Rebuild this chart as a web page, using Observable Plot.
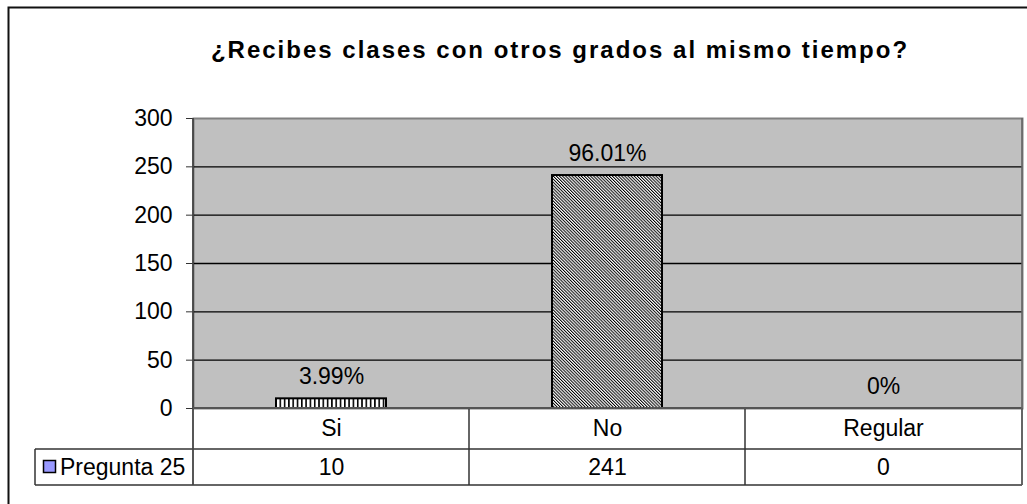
<!DOCTYPE html>
<html><head><meta charset="utf-8">
<script src="https://cdn.jsdelivr.net/npm/d3@7"></script>
<script src="https://cdn.jsdelivr.net/npm/@observablehq/plot@0.6"></script>
<style>body{margin:0;background:#fff}</style>
</head><body><div id="chart"></div>
<script>
const title = "¿Recibes clases con otros grados al mismo tiempo?";
const categories = ["Si", "No", "Regular"];
const values = [10, 241, 0];
const percentLabels = ["3.99%", "96.01%", "0%"];
const seriesName = "Pregunta 25";
const yTicks = [0, 50, 100, 150, 200, 250, 300];
const patterns = ["url(#vstripes)", "url(#dstripes)", "url(#vstripes)"];

const data = categories.map((c, i) => ({cat: c, value: values[i], label: percentLabels[i], fill: patterns[i]}));
const FONT = '"Liberation Sans", Arial, sans-serif';

function decorations(index, scales, vals, dims) {
  const g = d3.create("svg:g");
  g.append("path").attr("d", "M8.5,520V7.5H1040").attr("fill", "none")
    .attr("stroke", "#111").attr("stroke-width", 2);
  g.append("text").attr("x", 560).attr("y", 58).attr("text-anchor", "middle")
    .attr("font-size", 24).attr("font-weight", "bold").attr("letter-spacing", 2)
    .attr("fill", "#000").text(title);
  return g.node();
}

function tableMark(index, scales, vals, dims) {
  const {width, height, marginLeft, marginRight, marginTop, marginBottom} = dims;
  const x = scales.x;
  const n = categories.length;
  const left = marginLeft, right = width - marginRight, y0 = height - marginBottom;
  const step = (x && x.step) ? x.step() : (right - left) / n;
  const bw = (x && x.bandwidth) ? x.bandwidth() : step * 0.4;
  const bounds = categories.map(c => x(c) + bw / 2 - step / 2).concat([right]);
  const y1 = y0 + 41, y2 = y1 + 36;
  const legendLeft = 35;
  const g = d3.create("svg:g");
  const lines = g.append("g").attr("stroke", "#333").attr("stroke-width", 1.5).attr("fill", "none");
  lines.append("line").attr("x1", legendLeft).attr("x2", right).attr("y1", y1).attr("y2", y1);
  lines.append("line").attr("x1", legendLeft).attr("x2", right).attr("y1", y2).attr("y2", y2);
  bounds.slice(1).forEach(b => lines.append("line").attr("x1", b).attr("x2", b).attr("y1", y0).attr("y2", y2));
  lines.append("line").attr("x1", legendLeft).attr("x2", legendLeft).attr("y1", y1).attr("y2", y2);
  g.append("line").attr("x1", left).attr("x2", left).attr("y1", marginTop).attr("y2", y2)
    .attr("stroke", "#444").attr("stroke-width", 1.8);
  g.append("line").attr("x1", left).attr("x2", right).attr("y1", y0).attr("y2", y0)
    .attr("stroke", "#555").attr("stroke-width", 2);
  g.append("line").attr("x1", right).attr("x2", right).attr("y1", marginTop).attr("y2", y2)
    .attr("stroke", "#666").attr("stroke-width", 1.5);
  g.append("rect").attr("x", 43.5).attr("y", (y1 + y2) / 2 - 6.5).attr("width", 12).attr("height", 12)
    .attr("fill", "#9999FF").attr("stroke", "#000").attr("stroke-width", 1.5);
  g.append("text").attr("x", 60).attr("y", (y1 + y2) / 2).attr("dy", "0.35em")
    .attr("text-anchor", "start").attr("font-size", 23).attr("fill", "#000").text(seriesName);
  return g.node();
}

const chart = Plot.plot({
  width: 1027, height: 504,
  marginLeft: 193, marginRight: 5, marginTop: 118, marginBottom: 96,
  style: {fontFamily: FONT, fontSize: "23px", color: "#000", background: "#fff", overflow: "visible"},
  x: {type: "band", domain: categories, paddingInner: 0.6, paddingOuter: 0.3, axis: null},
  y: {domain: [0, 300], axis: null},
  color: {type: "identity"},
  marks: [
    decorations,
    Plot.frame({fill: "#C0C0C0", stroke: "#808080", strokeWidth: 2}),
    Plot.ruleY(yTicks.filter(t => t > 0 && t < 300), {stroke: "#000", strokeWidth: 1.3}),
    Plot.axisY(yTicks, {label: null, tickSize: 7, tickPadding: 14, fontSize: 23, stroke: "#333", fill: "#000"}),
    Plot.barY(data.filter(d => d.value > 0), {x: "cat", y: "value", fill: "fill", stroke: "#000", strokeWidth: 2}),
    Plot.text(data, {x: "cat", y: "value", text: "label", dy: -22, fontSize: 23, fill: "#000"}),
    tableMark,
    Plot.text(categories, {x: d => d, frameAnchor: "bottom", lineAnchor: "middle", dy: 20, fontSize: 23, fill: "#000"}),
    Plot.text(data, {x: "cat", text: d => String(d.value), frameAnchor: "bottom", lineAnchor: "middle", dy: 59, fontSize: 23, fill: "#000"})
  ]
});

const ns = "http://www.w3.org/2000/svg";
const defs = document.createElementNS(ns, "defs");
defs.innerHTML = `
<pattern id="vstripes" width="4.3" height="4" patternUnits="userSpaceOnUse">
  <rect width="4.3" height="4" fill="#fff"/><rect x="0" width="1.6" height="4" fill="#000"/>
</pattern>
<pattern id="dstripes" width="2.2" height="4" patternUnits="userSpaceOnUse" patternTransform="rotate(-45)">
  <rect width="2.2" height="4" fill="#fff"/><rect width="1" height="4" fill="#000"/>
</pattern>`;
chart.insertBefore(defs, chart.firstChild);
document.getElementById("chart").appendChild(chart);
</script>
</body></html>
